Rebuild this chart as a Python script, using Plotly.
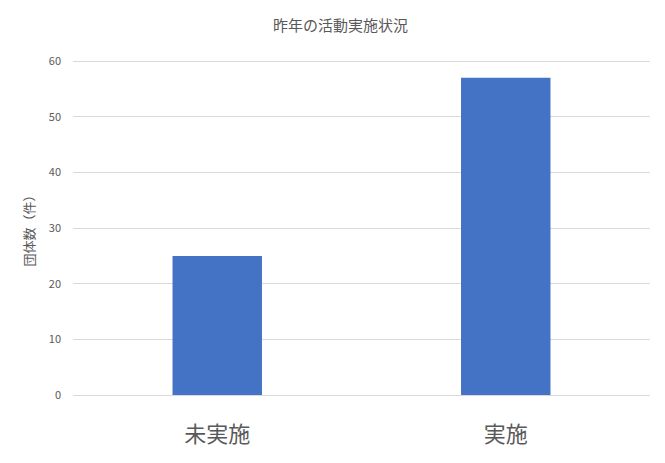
import plotly.graph_objects as go

categories = ['未実施', '実施']
counts = [25, 57]
y_ticks = [0, 10, 20, 30, 40, 50, 60]

fig = go.Figure()
fig.add_trace(go.Bar(
    x=categories, y=counts,
    marker=dict(color='#4472C4', line=dict(width=0)),
))

fig.update_layout(
    width=665, height=463,
    paper_bgcolor='white', plot_bgcolor='white',
    font=dict(family='Noto Sans CJK JP', color='#595959'),
    title=dict(text='昨年の活動実施状況', x=0.5, xanchor='center', y=0.962, yanchor='middle',
               font=dict(size=15, color='#595959'), automargin=False),
    margin=dict(l=65, r=23, t=52, b=76),
    bargap=0.69,
    showlegend=False,
)
fig.update_xaxes(
    tickfont=dict(size=22, color='#595959'),
    showline=False, ticks='', showgrid=False,
    ticklabelstandoff=24, automargin=False,
)
fig.update_yaxes(
    range=[0, 60.2], tickvals=y_ticks,
    tickfont=dict(size=11, color='#595959'),
    showgrid=True, gridcolor='#D9D9D9', gridwidth=1,
    zeroline=True, zerolinecolor='#D9D9D9', zerolinewidth=1,
    showline=False, ticks='', ticklabelstandoff=11,
    title=dict(text='団体数（件）', font=dict(size=13, color='#595959'), standoff=11),
    automargin=False,
)

fig.write_html("out.html")
